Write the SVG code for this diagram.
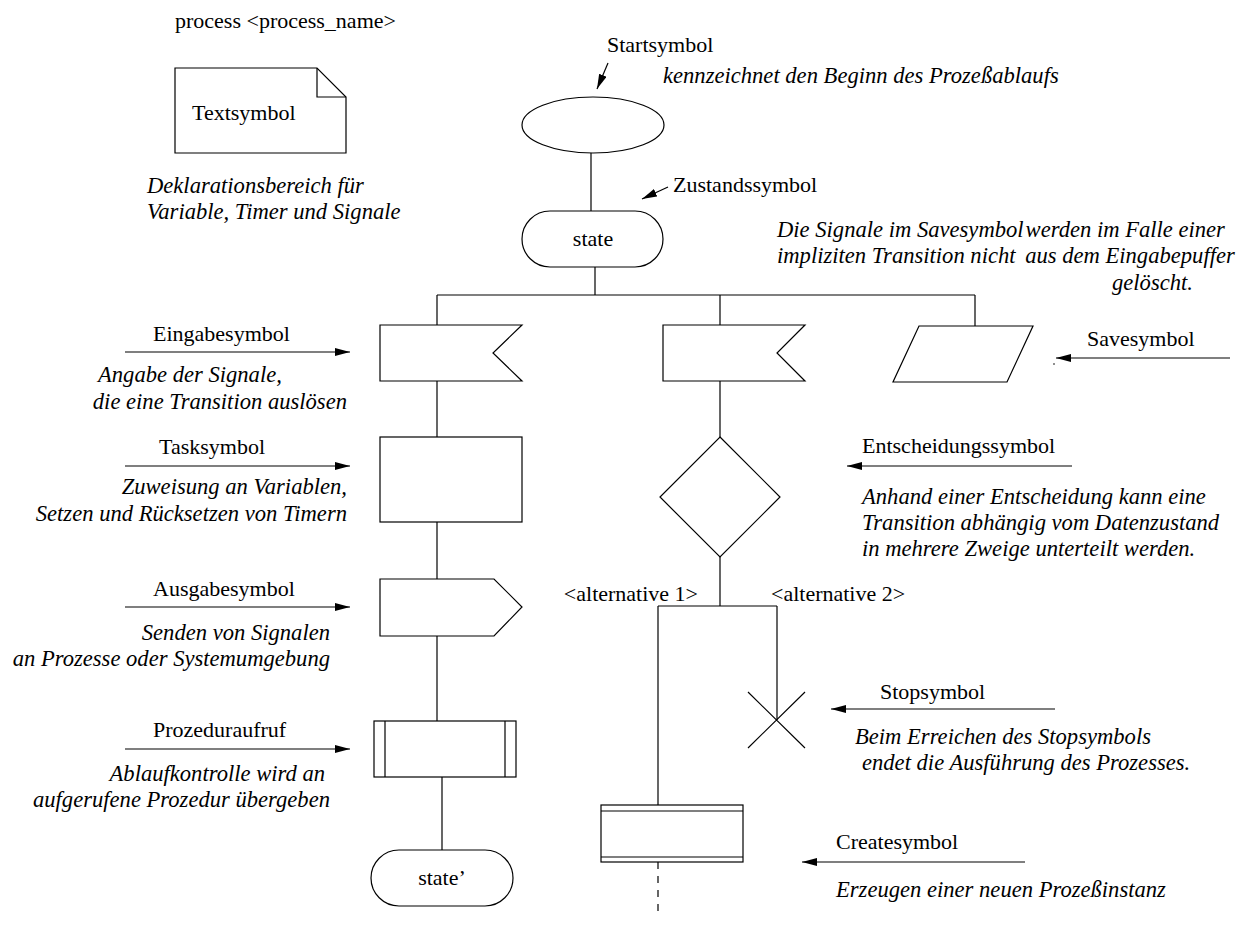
<svg xmlns="http://www.w3.org/2000/svg" width="1243" height="927" viewBox="0 0 1243 927">
  <defs>
    <marker id="head" markerUnits="userSpaceOnUse" markerWidth="16" markerHeight="10" refX="15" refY="4" orient="auto">
      <path d="M0,0 L15,4 L0,8 Z" fill="#000"/>
    </marker>
    <style>
      .shape { fill: #fff; stroke: #000; stroke-width: 1.2; }
      .line { fill: none; stroke: #000; stroke-width: 1.2; }
      .ptr { fill: none; stroke: #000; stroke-width: 1.2; marker-end: url(#head); }
      .lbl { font-family: "Liberation Serif", "Times New Roman", serif; font-size: 22px; fill: #000; }
      .note { font-family: "Liberation Serif", "Times New Roman", serif; font-size: 22.6px; font-style: italic; fill: #000; }
      .end { text-anchor: end; }
      .mid { text-anchor: middle; }
    </style>
  </defs>

  <!-- header and declaration area -->
  <g id="header">
    <text class="lbl" x="175" y="28">process &lt;process_name&gt;</text>
  </g>
  <g id="textsymbol">
    <path class="shape" d="M175,68 H317 L346,97 V153 H175 Z"/>
    <path class="line" d="M317,68 V97 H346"/>
    <text class="lbl" x="192" y="120">Textsymbol</text>
    <text class="note" x="147" y="193">Deklarationsbereich für</text>
    <text class="note" x="147" y="219">Variable, Timer und Signale</text>
  </g>

  <!-- connectors of the flow -->
  <g id="connectors">
    <path class="line" d="M591,153 V211"/>
    <path class="line" d="M595,267 V295"/>
    <path class="line" d="M437,295 H975"/>
    <path class="line" d="M437,295 V325"/>
    <path class="line" d="M720,295 V325"/>
    <path class="line" d="M975,295 V326"/>
    <path class="line" d="M437,381 V437"/>
    <path class="line" d="M437,522 V579"/>
    <path class="line" d="M437,636 V721"/>
    <path class="line" d="M442,777 V850"/>
    <path class="line" d="M720,381 V437"/>
    <path class="line" d="M720,557 V606"/>
    <path class="line" d="M658,606 H777"/>
    <path class="line" d="M658,606 V805"/>
    <path class="line" d="M777,606 V720"/>
    <path class="line" d="M658,862 V915" stroke-dasharray="7,7"/>
  </g>

  <!-- start -->
  <g id="start">
    <ellipse class="shape" cx="593" cy="125" rx="71" ry="28"/>
    <text class="lbl" x="607" y="52">Startsymbol</text>
    <path class="ptr" d="M608,63 L597,89"/>
    <text class="note" x="663" y="83">kennzeichnet den Beginn des Prozeßablaufs</text>
  </g>

  <!-- state -->
  <g id="state">
    <rect class="shape" x="522" y="211" width="141" height="56" rx="28" ry="28"/>
    <text class="lbl mid" x="593" y="246">state</text>
    <text class="lbl" x="673" y="192">Zustandssymbol</text>
    <path class="ptr" d="M668,187 L642,199"/>
  </g>

  <!-- save note -->
  <g id="save-note">
    <text class="note" x="777" y="237">Die Signale im Savesymbol<tspan dx="2">werden im Falle einer</tspan></text>
    <text class="note" x="777" y="263">impliziten Transition nicht <tspan dx="4">aus dem Eingabepuffer</tspan></text>
    <text class="note" x="1112" y="290">gelöscht.</text>
  </g>

  <!-- input 1 -->
  <g id="input1">
    <path class="shape" d="M380,325 H522 L493,353 L522,381 H380 Z"/>
    <text class="lbl" x="153" y="341">Eingabesymbol</text>
    <path class="ptr" d="M125,352 H350"/>
    <text class="note" x="98" y="382">Angabe der Signale,</text>
    <text class="note end" x="347" y="409">die eine Transition auslösen</text>
  </g>

  <!-- input 2 -->
  <g id="input2">
    <path class="shape" d="M663,325 H805 L777,353 L805,381 H663 Z"/>
  </g>

  <!-- save -->
  <g id="save">
    <path class="shape" d="M919,326 H1033 L1007,382 H893 Z"/>
    <text class="lbl" x="1087" y="346">Savesymbol</text>
    <path class="ptr" d="M1230,358 H1056"/>
    <circle cx="1054" cy="364" r="0.8" fill="#000"/>
  </g>

  <!-- task -->
  <g id="task">
    <rect class="shape" x="380" y="437" width="142" height="85"/>
    <text class="lbl" x="159" y="454">Tasksymbol</text>
    <path class="ptr" d="M125,466 H350"/>
    <text class="note end" x="347" y="494">Zuweisung an Variablen,</text>
    <text class="note end" x="347" y="521">Setzen und Rücksetzen von Timern</text>
  </g>

  <!-- decision -->
  <g id="decision">
    <path class="shape" d="M720,437 L780,497 L720,557 L660,497 Z"/>
    <text class="lbl" x="862" y="453">Entscheidungssymbol</text>
    <path class="ptr" d="M1072,466 H847"/>
    <text class="note" x="862" y="504">Anhand einer Entscheidung kann eine</text>
    <text class="note" x="862" y="530">Transition abhängig vom Datenzustand</text>
    <text class="note" x="862" y="556">in mehrere Zweige unterteilt werden.</text>
    <text class="lbl end" x="698" y="601">&lt;alternative 1&gt;</text>
    <text class="lbl" x="771" y="601">&lt;alternative 2&gt;</text>
  </g>

  <!-- output -->
  <g id="output">
    <path class="shape" d="M380,579 H494 L522,607 L494,636 H380 Z"/>
    <text class="lbl" x="153" y="596">Ausgabesymbol</text>
    <path class="ptr" d="M125,607 H350"/>
    <text class="note end" x="330" y="640">Senden von Signalen</text>
    <text class="note end" x="330" y="666">an Prozesse oder Systemumgebung</text>
  </g>

  <!-- stop -->
  <g id="stop">
    <path class="line" d="M748,692 L805,748 M748,748 L805,692"/>
    <text class="lbl" x="880" y="699">Stopsymbol</text>
    <path class="ptr" d="M1055,709 H831"/>
    <text class="note" x="855" y="744">Beim Erreichen des Stopsymbols</text>
    <text class="note" x="862" y="770">endet die Ausführung des Prozesses.</text>
  </g>

  <!-- procedure call -->
  <g id="procedure">
    <rect class="shape" x="374" y="721" width="142" height="56"/>
    <path class="line" d="M385,721 V777 M505,721 V777"/>
    <text class="lbl" x="153" y="737">Prozeduraufruf</text>
    <path class="ptr" d="M125,749 H350"/>
    <text class="note end" x="325" y="781">Ablaufkontrolle wird an</text>
    <text class="note end" x="330" y="807">aufgerufene Prozedur übergeben</text>
  </g>

  <!-- next state -->
  <g id="next-state">
    <rect class="shape" x="371" y="850" width="142" height="56" rx="28" ry="28"/>
    <text class="lbl mid" x="442" y="885">state’</text>
  </g>

  <!-- create -->
  <g id="create">
    <rect class="shape" x="601" y="805" width="142" height="57"/>
    <path class="line" d="M601,811 H743 M601,857 H743"/>
    <text class="lbl" x="836" y="849">Createsymbol</text>
    <path class="ptr" d="M1025,862 H802"/>
    <text class="note" x="836" y="897">Erzeugen einer neuen Prozeßinstanz</text>
  </g>
</svg>
